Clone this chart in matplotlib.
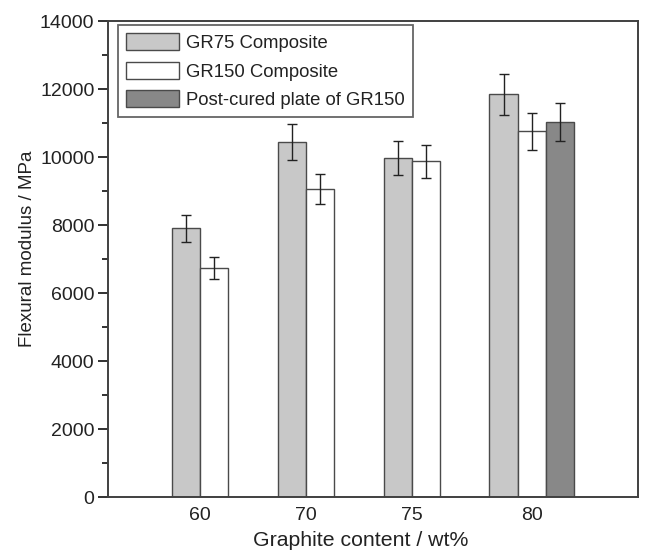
import matplotlib
matplotlib.use("Agg")
import matplotlib.pyplot as plt
import numpy as np
from matplotlib.ticker import MultipleLocator

plt.rcParams['font.family'] = ['Liberation Sans', 'DejaVu Sans']

groups = ["60", "70", "75", "80"]
gr75 = [7910, 10450, 9990, 11850]
gr75_err = [400, 525, 500, 600]
gr150 = [6750, 9070, 9880, 10770]
gr150_err = [320, 450, 495, 545]
postcured = [11040]
postcured_err = [560]

w = 0.267
x = np.arange(len(groups))

fig = plt.figure(figsize=(6.47, 5.52), dpi=100)
ax = fig.add_axes([0.1674, 0.0991, 0.8182, 0.8623])

edge = "#4a4a4a"
ekw = dict(ecolor="#222222", elinewidth=1.0, capthick=1.0)
ax.bar(x - w, gr75, w, yerr=gr75_err, color="#c8c8c8", edgecolor=edge,
       linewidth=1.0, capsize=3.5, error_kw=ekw, label="GR75 Composite")
ax.bar(x, gr150, w, yerr=gr150_err, color="white", edgecolor=edge,
       linewidth=1.0, capsize=3.5, error_kw=ekw, label="GR150 Composite")
ax.bar(x[-1:] + w, postcured, w, yerr=postcured_err, color="#888888",
       edgecolor=edge, linewidth=1.0, capsize=3.5, error_kw=ekw,
       label="Post-cured plate of GR150")

# label sits under the bars that exist in each group
ticks = [x[0] - w / 2, x[1] - w / 2, x[2] - w / 2, x[3]]
ax.set_xticks(ticks)
ax.set_xticklabels(groups)
ax.set_xlim(-1, 4)
ax.set_ylim(0, 14000)
ax.yaxis.set_major_locator(MultipleLocator(2000))
ax.yaxis.set_minor_locator(MultipleLocator(1000))
ax.tick_params(axis="x", length=0, labelsize=14, pad=7, colors="#222222")
ax.tick_params(axis="y", which="major", length=7, width=1.3, labelsize=14,
               colors="#222222", direction="out", pad=3)
ax.tick_params(axis="y", which="minor", length=4, width=1.3,
               colors="#222222", direction="out")
for sp in ax.spines.values():
    sp.set_color("#404040")
    sp.set_linewidth(1.4)

ax.set_xlabel("Graphite content / wt%", fontsize=15.3, color="#222222")
ax.set_ylabel("Flexural modulus / MPa", fontsize=13.5, color="#222222")
ax.xaxis.set_label_coords(0.476, -0.07)
ax.yaxis.set_label_coords(-0.137, 0.523)

leg = ax.legend(loc="upper left", bbox_to_anchor=(0.018, 0.992), fontsize=13.3,
                frameon=True, fancybox=False, handlelength=2.85,
                handleheight=1.05, handletextpad=0.4, labelspacing=0.52,
                borderpad=0.44, borderaxespad=0)
leg.get_frame().set_edgecolor("#404040")
leg.get_frame().set_linewidth(1.3)
for t in leg.get_texts():
    t.set_color("#222222")

fig.savefig("out.png", dpi=100)
